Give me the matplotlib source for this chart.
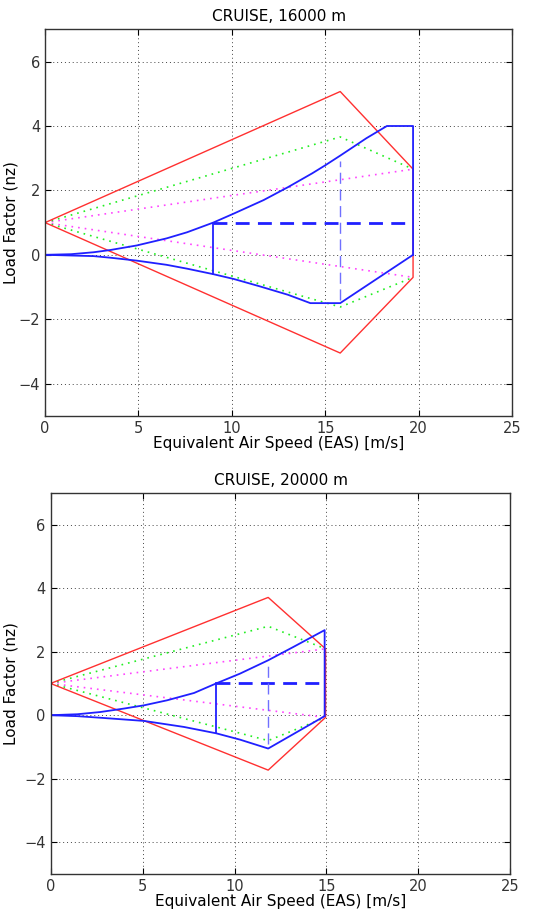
import matplotlib.pyplot as plt

# ---- CRUISE, 16000 m ----
c16_gust_v = [0, 15.8, 19.7, 19.7, 15.8, 0]
c16_gust_n = [1, 5.07, 2.66, -0.70, -3.05, 1]
c16_green_up_v = [0, 15.8, 19.7]
c16_green_up_n = [1, 3.66, 2.66]
c16_green_lo_v = [0, 15.8, 19.7]
c16_green_lo_n = [1, -1.62, -0.70]
c16_mag_up_v = [0, 19.7]
c16_mag_up_n = [1, 2.66]
c16_mag_lo_v = [0, 19.7]
c16_mag_lo_n = [1, -0.70]
c16_man_up_v = [0, 1.4, 2.6, 3.5, 4.9, 6.5, 7.6, 9.0, 10.1, 11.7, 13.0, 14.3, 15.0, 15.8, 17.2, 18.3, 19.7, 19.7]
c16_man_up_n = [0, 0.02, 0.08, 0.15, 0.29, 0.51, 0.70, 1.0, 1.28, 1.70, 2.10, 2.53, 2.78, 3.08, 3.62, 4.0, 4.0, 0]
c16_man_lo_v = [0, 2.6, 3.5, 4.9, 6.5, 7.6, 9.0, 10.1, 11.5, 13.0, 14.2, 15.8, 19.7]
c16_man_lo_n = [0, -0.04, -0.09, -0.18, -0.31, -0.43, -0.60, -0.75, -0.98, -1.24, -1.50, -1.50, 0]
c16_va = 9.0
c16_va_n = [-0.60, 1.0]
c16_cruise_v = [9.0, 19.7]
c16_vc = 15.8
c16_vc_n = [-1.40, 2.90]

# ---- CRUISE, 20000 m ----
c20_gust_v = [0, 11.83, 14.95, 14.95, 11.83, 0]
c20_gust_n = [1, 3.71, 2.09, -0.07, -1.73, 1]
c20_green_up_v = [0, 11.83, 14.95]
c20_green_up_n = [1, 2.80, 2.09]
c20_green_lo_v = [0, 11.83, 14.95]
c20_green_lo_n = [1, -0.80, -0.07]
c20_mag_up_v = [0, 14.95]
c20_mag_up_n = [1, 2.09]
c20_mag_lo_v = [0, 14.95]
c20_mag_lo_n = [1, -0.07]
c20_man_up_v = [0, 1.45, 2.7, 4.0, 5.07, 6.34, 7.8, 9.0, 10.3, 11.83, 13.2, 14.9, 14.9]
c20_man_up_n = [0, 0.03, 0.10, 0.21, 0.31, 0.47, 0.70, 1.0, 1.31, 1.73, 2.15, 2.68, 0]
c20_man_lo_v = [0, 1.45, 2.7, 5.07, 7.25, 9.0, 10.3, 11.83, 14.9]
c20_man_lo_n = [0, -0.03, -0.08, -0.18, -0.37, -0.57, -0.77, -1.05, -0.03]
c20_va = 9.0
c20_va_n = [-0.57, 1.0]
c20_cruise_v = [9.0, 14.8]
c20_vc = 11.83
c20_vc_n = [-0.90, 1.72]

x_ticks = [0, 5, 10, 15, 20, 25]
y_ticks = [-4, -2, 0, 2, 4, 6]


def draw_panel(ax, title, gust_v, gust_n, gu_v, gu_n, gl_v, gl_n, mu_v, mu_n,
               ml_v, ml_n, up_v, up_n, lo_v, lo_n, va, va_n, cruise_v, vc, vc_n,
               ylabel_x):
    ax.plot(mu_v, mu_n, color='#ff44ff', linestyle=(0, (1, 3)), linewidth=1.2)
    ax.plot(ml_v, ml_n, color='#ff44ff', linestyle=(0, (1, 3)), linewidth=1.2)
    ax.plot(gu_v, gu_n, color='#22ee22', linestyle=(0, (1, 3)), linewidth=1.2)
    ax.plot(gl_v, gl_n, color='#22ee22', linestyle=(0, (1, 3)), linewidth=1.2)
    ax.plot(gust_v, gust_n, color='#ff3030', linewidth=1.0)
    ax.plot(up_v, up_n, color='#2020ff', linewidth=1.3)
    ax.plot(lo_v, lo_n, color='#2020ff', linewidth=1.3)
    ax.plot([va, va], va_n, color='#2020ff', linewidth=1.3)
    ax.plot(cruise_v, [1, 1], color='#2020ff', linewidth=2.0, linestyle=(0, (5, 3)))
    ax.plot([vc, vc], vc_n, color='#7070ff', linewidth=1.0, linestyle=(0, (8, 4)))

    ax.set_xlim(0, 25)
    ax.set_ylim(-5, 7)
    ax.set_xticks(x_ticks)
    ax.set_yticks(y_ticks)
    ax.grid(True, color='#444444', linestyle=(0, (1, 3)), linewidth=0.7)
    ax.tick_params(direction='in', top=True, right=True, length=4,
                   labelsize=10.5, labelcolor='#333333')
    for spine in ax.spines.values():
        spine.set_linewidth(1.0)
        spine.set_color('#333333')
    ax.set_title(title, fontsize=11, pad=6)
    ax.set_xlabel('Equivalent Air Speed (EAS) [m/s]', fontsize=11, labelpad=0)
    ax.set_ylabel('Load Factor (nz)', fontsize=11)
    ax.yaxis.set_label_coords(ylabel_x, 0.5)


fig = plt.figure(figsize=(5.5, 9.18), dpi=100)
ax1 = fig.add_axes([0.082, 0.547, 0.849, 0.421])
ax2 = fig.add_axes([0.092, 0.048, 0.836, 0.415])

draw_panel(ax1, 'CRUISE, 16000 m', c16_gust_v, c16_gust_n,
           c16_green_up_v, c16_green_up_n, c16_green_lo_v, c16_green_lo_n,
           c16_mag_up_v, c16_mag_up_n, c16_mag_lo_v, c16_mag_lo_n,
           c16_man_up_v, c16_man_up_n, c16_man_lo_v, c16_man_lo_n,
           c16_va, c16_va_n, c16_cruise_v, c16_vc, c16_vc_n, -0.058)
draw_panel(ax2, 'CRUISE, 20000 m', c20_gust_v, c20_gust_n,
           c20_green_up_v, c20_green_up_n, c20_green_lo_v, c20_green_lo_n,
           c20_mag_up_v, c20_mag_up_n, c20_mag_lo_v, c20_mag_lo_n,
           c20_man_up_v, c20_man_up_n, c20_man_lo_v, c20_man_lo_n,
           c20_va, c20_va_n, c20_cruise_v, c20_vc, c20_vc_n, -0.07)

fig.savefig('out.png', dpi=100)
